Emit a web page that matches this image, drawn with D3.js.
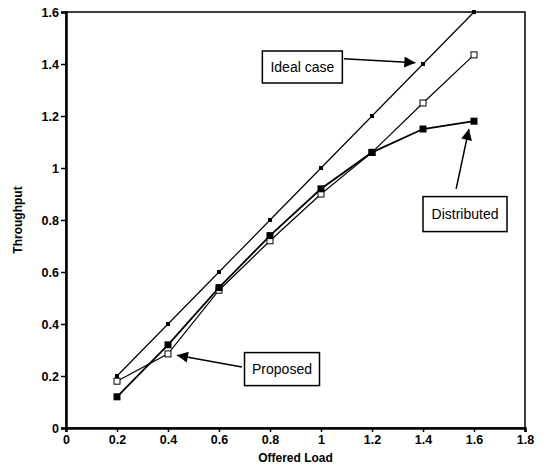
<!DOCTYPE html>
<html>
<head>
<meta charset="utf-8">
<script src="https://cdn.jsdelivr.net/npm/d3@7"></script>
<style>
  body { margin: 0; background: #fff; }
  svg { display: block; font-family: "Liberation Sans", Arial, sans-serif; }
</style>
</head>
<body>
<svg></svg>
<script>
// data
let loads = [0.2, 0.4, 0.6, 0.8, 1.0, 1.2, 1.4, 1.6]
let ideal = [0.2, 0.4, 0.6, 0.8, 1.0, 1.2, 1.4, 1.6]
let proposed = [0.18, 0.285, 0.53, 0.72, 0.90, 1.06, 1.25, 1.435]
let distributed = [0.12, 0.32, 0.54, 0.74, 0.92, 1.06, 1.15, 1.18]
let xTicks = [0, 0.2, 0.4, 0.6, 0.8, 1, 1.2, 1.4, 1.6, 1.8]
let yTicks = [0, 0.2, 0.4, 0.6, 0.8, 1, 1.2, 1.4, 1.6]

let width = 543
let height = 468
let plotLeft = 66, plotRight = 525, plotTop = 12, plotBottom = 428

let svg = d3.select("svg").attr("width", width).attr("height", height)

let xScale = d3.scaleLinear().domain([0, 1.8]).range([plotLeft, plotRight])
let yScale = d3.scaleLinear().domain([0, 1.6]).range([plotBottom, plotTop])

// frame
svg.append("rect")
   .attr("x", plotLeft).attr("y", plotTop)
   .attr("width", plotRight - plotLeft).attr("height", plotBottom - plotTop)
   .attr("fill", "none").attr("stroke", "#000").attr("stroke-width", 1.5)

let fmt = d => d === 0 || d === 1 ? String(d) : d3.format(".1f")(d)

let xAxis = svg.append("g")
   .attr("transform", "translate(0," + plotBottom + ")")
   .call(d3.axisBottom(xScale).tickValues(xTicks).tickFormat(fmt).tickSize(4).tickPadding(3))
let yAxis = svg.append("g")
   .attr("transform", "translate(" + plotLeft + ",0)")
   .call(d3.axisLeft(yScale).tickValues(yTicks).tickFormat(fmt).tickSize(5).tickPadding(2))

;[xAxis, yAxis].forEach(g => {
  g.select(".domain").attr("stroke", "#000").attr("stroke-width", 2.5)
  g.selectAll(".tick line").attr("stroke", "#000").attr("stroke-width", 1.5)
  g.selectAll(".tick text")
   .attr("fill", "#000")
   .style("font-size", "12.5px")
   .style("font-weight", "bold")
   .style("font-family", "Liberation Sans, Arial, sans-serif")
})

// axis titles
svg.append("text")
   .attr("x", (plotLeft + plotRight) / 2).attr("y", 462)
   .attr("text-anchor", "middle")
   .style("font-size", "12px").style("font-weight", "bold")
   .text("Offered Load")
svg.append("text")
   .attr("transform", "translate(22," + ((plotTop + plotBottom) / 2) + ") rotate(-90)")
   .attr("text-anchor", "middle")
   .style("font-size", "12px").style("font-weight", "bold")
   .text("Throughput")

// lines
let series = [
  { name: "ideal", values: ideal, width: 1.2 },
  { name: "proposed", values: proposed, width: 1.2 },
  { name: "distributed", values: distributed, width: 1.8 }
]
let line = d3.line()
   .x((d, i) => xScale(loads[i]))
   .y(d => yScale(d))

series.forEach(s => {
  svg.append("path")
     .datum(s.values)
     .attr("d", line)
     .attr("fill", "none")
     .attr("stroke", "#000")
     .attr("stroke-width", s.width)
})

// markers
svg.selectAll(".ideal-pt")
   .data(ideal).enter().append("rect")
   .attr("class", "ideal-pt")
   .attr("x", (d, i) => xScale(loads[i]) - 2)
   .attr("y", d => yScale(d) - 2)
   .attr("width", 4).attr("height", 4)
   .attr("fill", "#000")

svg.selectAll(".prop-pt")
   .data(proposed).enter().append("rect")
   .attr("class", "prop-pt")
   .attr("x", (d, i) => xScale(loads[i]) - 3)
   .attr("y", d => yScale(d) - 3)
   .attr("width", 6).attr("height", 6)
   .attr("fill", "#fff").attr("stroke", "#000").attr("stroke-width", 1)

svg.selectAll(".dist-pt")
   .data(distributed).enter().append("rect")
   .attr("class", "dist-pt")
   .attr("x", (d, i) => xScale(loads[i]) - 3.5)
   .attr("y", d => yScale(d) - 3.5)
   .attr("width", 7).attr("height", 7)
   .attr("fill", "#000")

// annotations: label box in data coords plus arrow from/to
let notes = [
  { text: "Ideal case", bx: 0.77, by: 1.45, bw: 80, bh: 32, from: [1.09, 1.42], to: [1.37, 1.405] },
  { text: "Distributed", bx: 1.40, by: 0.89, bw: 84, bh: 35, from: [1.53, 0.92], to: [1.58, 1.15] },
  { text: "Proposed", bx: 0.70, by: 0.29, bw: 75, bh: 33, from: [0.69, 0.235], to: [0.435, 0.28] }
]

svg.append("defs").append("marker")
   .attr("id", "head")
   .attr("viewBox", "0 0 10 10")
   .attr("refX", 10).attr("refY", 5)
   .attr("markerWidth", 22).attr("markerHeight", 11)
   .attr("markerUnits", "userSpaceOnUse")
   .attr("orient", "auto")
   .append("path").attr("d", "M0,0 L10,5 L0,10 Z").attr("fill", "#000")

notes.forEach(n => {
  let bx = xScale(n.bx), by = yScale(n.by)
  svg.append("rect")
     .attr("x", bx).attr("y", by)
     .attr("width", n.bw).attr("height", n.bh)
     .attr("fill", "#fff").attr("stroke", "#000").attr("stroke-width", 1.5)
  svg.append("text")
     .attr("x", bx + n.bw / 2).attr("y", by + n.bh / 2)
     .attr("dy", "0.35em")
     .attr("text-anchor", "middle")
     .style("font-size", "14px")
     .text(n.text)
  svg.append("line")
     .attr("x1", xScale(n.from[0])).attr("y1", yScale(n.from[1]))
     .attr("x2", xScale(n.to[0])).attr("y2", yScale(n.to[1]))
     .attr("stroke", "#000").attr("stroke-width", 1.5)
     .attr("marker-end", "url(#head)")
})
</script>
</body>
</html>
